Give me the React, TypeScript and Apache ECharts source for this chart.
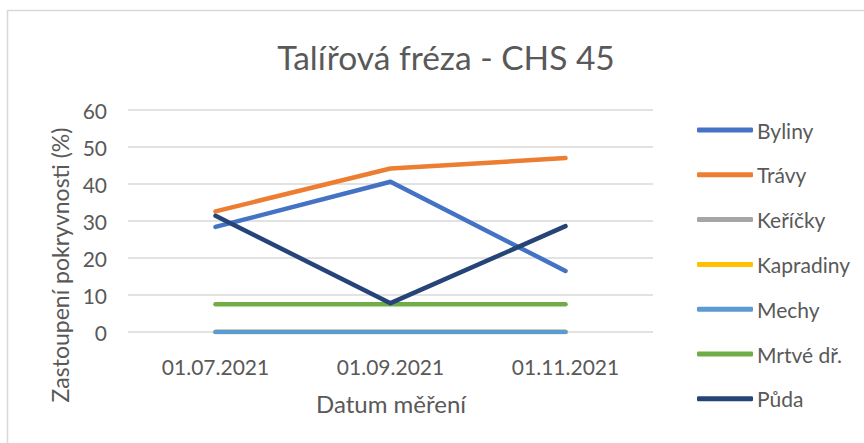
import React, { useEffect, useRef } from "react";
import * as echarts from "echarts";

const categories = ["01.07.2021", "01.09.2021", "01.11.2021"];
const seriesNames = ["Byliny", "Trávy", "Keříčky", "Kapradiny", "Mechy", "Mrtvé dř.", "Půda"];
const byliny = [28.4, 40.6, 16.5];
const travy = [32.6, 44.2, 47.0];
const kericky = [0, 0, 0];
const kapradiny = [0, 0, 0];
const mechy = [0, 0, 0];
const mrtveDrevo = [7.5, 7.5, 7.5];
const puda = [31.4, 7.8, 28.6];
const seriesColors = ["#4472C4", "#ED7D31", "#A5A5A5", "#FFC000", "#5B9BD5", "#70AD47", "#264478"];
const yTicks = [0, 10, 20, 30, 40, 50, 60];

const FONT = "Lato";
const TEXT = "#595959";

export default function App() {
  const ref = useRef<HTMLDivElement>(null);
  useEffect(() => {
    if (!ref.current) return;
    const chart = echarts.init(ref.current, undefined, { renderer: "svg" });
    const data = [byliny, travy, kericky, kapradiny, mechy, mrtveDrevo, puda];
    chart.setOption({
      animation: false,
      backgroundColor: "#ffffff",
      textStyle: { fontFamily: FONT, color: TEXT },
      title: {
        text: "Talířová fréza - CHS 45",
        left: 441,
        top: 35,
        textAlign: "center",
        textStyle: { fontFamily: FONT, fontSize: 33.5, fontWeight: "normal", color: TEXT },
      },
      grid: { left: 128, right: 211, top: 110, bottom: 111, containLabel: false },
      legend: {
        orient: "vertical",
        left: 692,
        top: 113,
        itemWidth: 56,
        itemHeight: 5,
        itemGap: 20.8,
        icon: "roundRect",
        textStyle: { fontFamily: FONT, fontSize: 21, color: TEXT, lineHeight: 24, padding: [0, 0, 0, -1] },
        data: seriesNames,
      },
      xAxis: {
        type: "category",
        data: categories,
        boundaryGap: true,
        axisLine: { show: false },
        axisTick: { show: false },
        axisLabel: { fontFamily: FONT, fontSize: 21, color: TEXT, margin: 24 },
        splitLine: { show: false },
      },
      yAxis: {
        type: "value",
        min: yTicks[0],
        max: yTicks[yTicks.length - 1],
        interval: 10,
        axisLine: { show: false },
        axisTick: { show: false },
        axisLabel: { fontFamily: FONT, fontSize: 21, color: TEXT, margin: 21 },
        splitLine: { lineStyle: { color: "#d9d9d9", width: 1.5 } },
      },
      graphic: [
        {
          type: "rect",
          shape: { x: 7.5, y: 10.5, width: 1000, height: 1000 },
          style: { fill: "none", stroke: "#d9d9d9", lineWidth: 1.5 },
          silent: true,
        },
        {
          type: "text",
          x: 60,
          y: 265,
          rotation: Math.PI / 2,
          style: {
            text: "Zastoupení pokryvnosti (%)",
            fontFamily: FONT,
            fontSize: 23,
            fill: TEXT,
            align: "center",
            verticalAlign: "middle",
          },
        },
        {
          type: "text",
          x: 391,
          y: 403,
          style: {
            text: "Datum měření",
            fontFamily: FONT,
            fontSize: 24,
            fill: TEXT,
            align: "center",
            verticalAlign: "middle",
          },
        },
      ],
      series: seriesNames.map((name, i) => ({
        name,
        type: "line",
        data: data[i],
        symbol: "none",
        color: seriesColors[i],
        lineStyle: { width: 4.5, color: seriesColors[i], cap: "round", join: "round" },
      })),
    });
    return () => chart.dispose();
  }, []);
  return <div ref={ref} style={{ position: "absolute", left: 0, top: 0, width: 864, height: 443 }} />;
}
